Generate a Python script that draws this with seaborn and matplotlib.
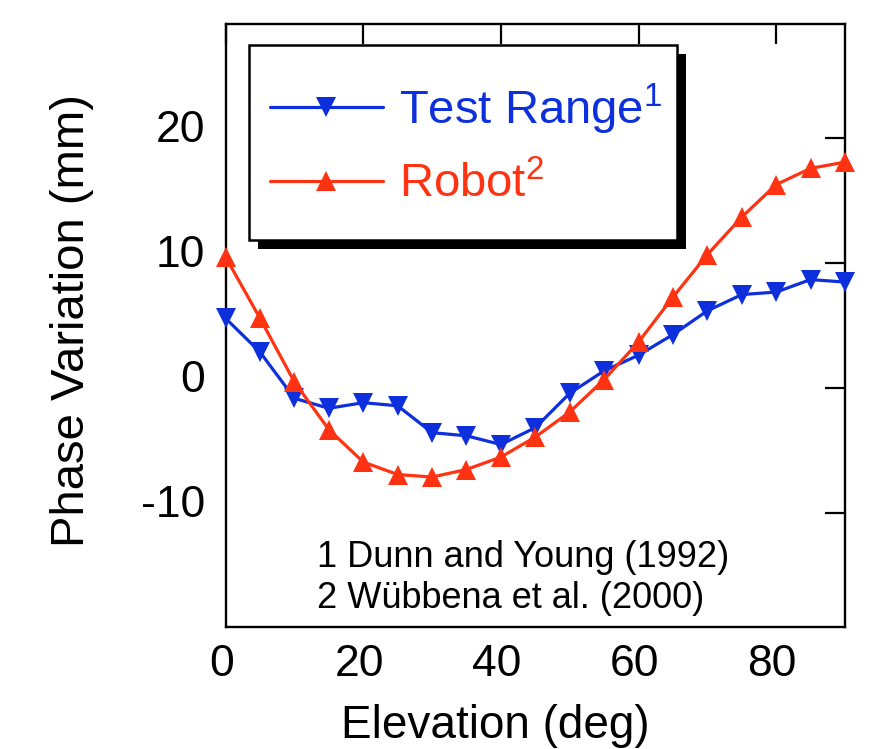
import matplotlib
matplotlib.use("Agg")
import matplotlib.pyplot as plt
import matplotlib.transforms as mtransforms
from matplotlib.patches import Rectangle
import numpy as np
import pandas as pd
import seaborn as sns

# ---- data ----
elevation = [0, 5, 10, 15, 20, 25, 30, 35, 40, 45, 50, 55, 60, 65, 70, 75, 80, 85, 90]
test_range = [5.6, 2.9, -0.8, -1.6, -1.15, -1.4, -3.55, -3.8, -4.5, -3.15,
              -0.4, 1.4, 2.65, 4.3, 6.2, 7.5, 7.7, 8.7, 8.5]
robot = [10.5, 5.6, 0.5, -3.3, -5.9, -6.9, -7.1, -6.5, -5.5, -3.9,
         -1.9, 0.7, 3.7, 7.3, 10.7, 13.7, 16.3, 17.6, 18.1]
x_ticks = [0, 20, 40, 60, 80]
y_ticks = [-10, 0, 10, 20]
series_labels = ["Test Range$^{1}$", "Robot$^{2}$"]
notes = ["1 Dunn and Young (1992)", "2 Wübbena et al. (2000)"]

BLUE = "#0d2fdc"
RED = "#ff3311"

sns.set_style("white")
plt.rcParams["font.family"] = ["Liberation Sans", "DejaVu Sans"]
plt.rcParams["mathtext.fontset"] = "custom"
plt.rcParams["mathtext.rm"] = "Liberation Sans"
plt.rcParams["mathtext.it"] = "Liberation Sans:italic"
plt.rcParams["mathtext.default"] = "regular"
plt.rcParams["axes.unicode_minus"] = False
plt.rcParams["text.color"] = "black"
plt.rcParams["axes.labelcolor"] = "black"

fig = plt.figure(figsize=(8.9, 7.49), dpi=100)
ax = fig.add_axes([225.6 / 890, 1 - 627 / 749, (845 - 225.6) / 890, (627 - 24) / 749])

df_t = pd.DataFrame({"x": elevation, "y": test_range})
df_r = pd.DataFrame({"x": elevation, "y": robot})

sns.lineplot(data=df_t, x="x", y="y", ax=ax, color=BLUE, marker="v", markersize=15,
             markeredgewidth=0, linewidth=2.3, label=series_labels[0], clip_on=False, zorder=3)
sns.lineplot(data=df_r, x="x", y="y", ax=ax, color=RED, marker="^", markersize=15,
             markeredgewidth=0, linewidth=2.3, label=series_labels[1], clip_on=False, zorder=3)

ax.set_xlim(0, 90)
ax.set_ylim(-19.1, 29.15)
ax.set_xticks(x_ticks)
ax.set_yticks(y_ticks)
ax.set_xticklabels([str(v) for v in x_ticks])
ax.set_yticklabels([str(v) for v in y_ticks])

for s in ax.spines.values():
    s.set_linewidth(1.7)
    s.set_color("black")
    s.set_visible(True)

ax.tick_params(axis="both", direction="in", length=14.4, width=1.6, top=True, right=True,
               labelsize=32, colors="black")
ax.tick_params(axis="x", pad=12.5)
ax.tick_params(axis="y", pad=14.5)

# small offsets of tick labels as in the reference
offx = mtransforms.ScaledTranslation(-0.04, 0, fig.dpi_scale_trans)
offy = mtransforms.ScaledTranslation(0, 0.12, fig.dpi_scale_trans)
for t in ax.xaxis.get_major_ticks():
    t.label1.set_transform(t.label1.get_transform() + offx)
for t in ax.yaxis.get_major_ticks():
    t.label1.set_transform(t.label1.get_transform() + offy)

ax.set_xlabel("Elevation (deg)", fontsize=33, color="black")
ax.set_ylabel("Phase Variation (mm)", fontsize=34, color="black")
ax.xaxis.set_label_coords(0.435, -0.127)
ax.yaxis.set_label_coords(-0.2125, 0.5075)

# legend box with heavy shadow
bx0, by0, bw, bh = 0.038, 0.642, 0.691, 0.323
dx, dy = 9 / 619.4, -9 / 603
ax.add_patch(Rectangle((bx0 + dx, by0 + dy), bw, bh, transform=ax.transAxes,
                       facecolor="black", edgecolor="black", lw=0, zorder=6, clip_on=False))
ax.add_patch(Rectangle((bx0, by0), bw, bh, transform=ax.transAxes,
                       facecolor="white", edgecolor="black", lw=1.8, zorder=7, clip_on=False))

leg = ax.legend(loc="center", bbox_to_anchor=(0.388, 0.80), frameon=False, fontsize=34,
                handlelength=2.4, handletextpad=0.33, labelspacing=0.55,
                labelcolor="linecolor", borderpad=0, borderaxespad=0)
leg.set_zorder(8)

for txt, yv in zip(notes, [-14.3, -17.6]):
    ax.text(13.3, yv, txt, fontsize=26, va="baseline", ha="left", color="black", zorder=5)

fig.savefig("out.png", dpi=100)
